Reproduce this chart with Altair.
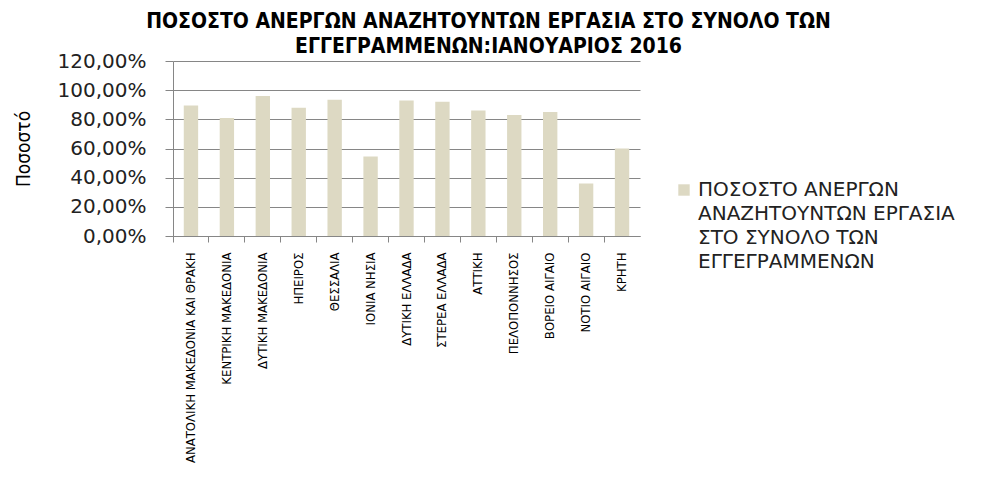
import altair as alt
import pandas as pd

regions = [
    "ΑΝΑΤΟΛΙΚΗ ΜΑΚΕΔΟΝΙΑ ΚΑΙ ΘΡΑΚΗ",
    "ΚΕΝΤΡΙΚΗ ΜΑΚΕΔΟΝΙΑ",
    "ΔΥΤΙΚΗ ΜΑΚΕΔΟΝΙΑ",
    "ΗΠΕΙΡΟΣ",
    "ΘΕΣΣΑΛΙΑ",
    "ΙΟΝΙΑ ΝΗΣΙΑ",
    "ΔΥΤΙΚΗ ΕΛΛΑΔΑ",
    "ΣΤΕΡΕΑ ΕΛΛΑΔΑ",
    "ΑΤΤΙΚΗ",
    "ΠΕΛΟΠΟΝΝΗΣΟΣ",
    "ΒΟΡΕΙΟ ΑΙΓΑΙΟ",
    "ΝΟΤΙΟ ΑΙΓΑΙΟ",
    "ΚΡΗΤΗ",
]
values = [89.5, 81.0, 96.0, 88.0, 93.5, 54.5, 93.0, 92.0, 86.0, 83.0, 85.0, 36.0, 60.0]
series_name = "ΠΟΣΟΣΤΟ  ΑΝΕΡΓΩΝ|ΑΝΑΖΗΤΟΥΝΤΩΝ ΕΡΓΑΣΙΑ|ΣΤΟ ΣΥΝΟΛΟ ΤΩΝ|ΕΓΓΕΓΡΑΜΜΕΝΩΝ"
title_lines = ["ΠΟΣΟΣΤΟ  ΑΝΕΡΓΩΝ ΑΝΑΖΗΤΟΥΝΤΩΝ ΕΡΓΑΣΙΑ ΣΤΟ ΣΥΝΟΛΟ ΤΩΝ",
               "ΕΓΓΕΓΡΑΜΜΕΝΩΝ:ΙΑΝΟΥΑΡΙΟΣ 2016"]
y_ticks = [0, 20, 40, 60, 80, 100, 120]

df = pd.DataFrame({"region": regions, "value": values, "series": series_name})

narrow = "DejaVu Sans Condensed, sans-serif"
wide = "DejaVu Sans, Verdana, sans-serif"
grid_c = "#868686"

W, H = 467, 175
chart = alt.Chart(df).mark_bar().encode(
    x=alt.X("region:N", sort=regions,
            scale=alt.Scale(paddingInner=0.6, paddingOuter=0.3),
            axis=alt.Axis(title=None, labelAngle=-90, labelAlign="right", labelBaseline="middle",
                          labelFont=narrow, labelFontSize=13, labelColor="#000000",
                          labelPadding=10, labelOffset=0, bandPosition=-0.75,
                          tickSize=6, tickColor=grid_c, domainColor=grid_c, labelLimit=400)),
    y=alt.Y("value:Q", scale=alt.Scale(domain=[0, 120], nice=False),
            axis=alt.Axis(values=y_ticks, title="Ποσοστό", titleFont=narrow, titleFontSize=19,
                          titleFontWeight="normal", titleColor="#000000", titlePadding=24,
                          labelFont=wide, labelFontSize=20, labelColor="#222222",
                          labelExpr="replace(format(datum.value, '.2f'), '.', ',') + '%'",
                          labelPadding=19, tickSize=8, tickColor=grid_c, domainColor=grid_c,
                          gridColor=grid_c, gridOpacity=1)),
    color=alt.Color("series:N", scale=alt.Scale(range=["#DDD9C3"]),
                    legend=alt.Legend(title=None, orient="none", legendX=501, legendY=119,
                                      symbolType="square", symbolSize=130, symbolStrokeWidth=0,
                                      labelFont=wide, labelFontSize=20, labelColor="#222222",
                                      labelExpr="split(datum.label, '|')", labelLimit=400,
                                      labelOffset=4)),
).properties(
    width=W, height=H,
    title=alt.TitleParams(text=title_lines, font=narrow, fontSize=21, fontWeight="bold",
                          color="#000000", anchor="middle", frame="group", dx=82, offset=-6,
                          lineHeight=25),
    autosize=alt.AutoSizeParams(type="none"),
    padding={"left": 165, "top": 53, "right": 330, "bottom": 230},
).configure(view=alt.ViewConfig(stroke=None), style={"guide-label": {"lineHeight": 24}})

chart.save("out.html", embed_options={"renderer": "svg", "actions": False})
